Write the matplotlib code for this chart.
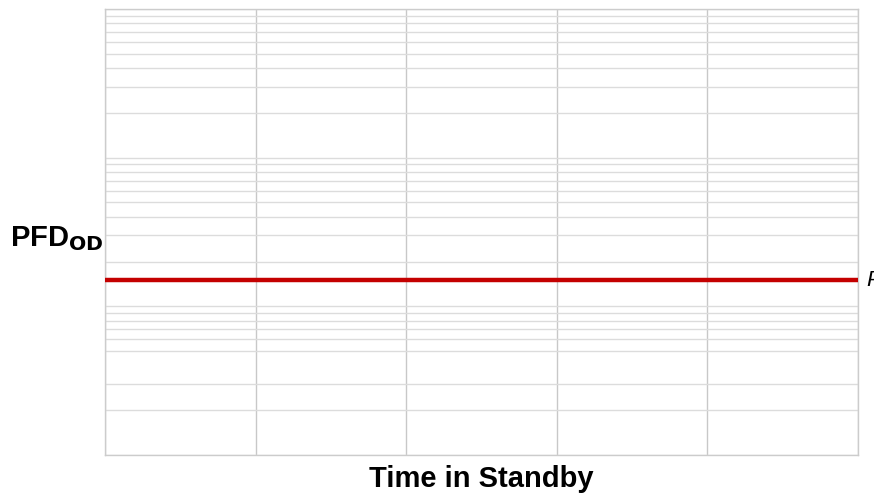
import matplotlib
matplotlib.use("Agg")
import matplotlib.pyplot as plt
from matplotlib.ticker import FixedLocator, NullFormatter

plt.rcParams['font.family'] = ['Liberation Sans', 'DejaVu Sans']

# data
time_standby = [0, 5]
pfd_od = [1.5e-3, 1.5e-3]
x_grid = [0, 1, 2, 3, 4, 5]
y_decades = [1e-4, 1e-3, 1e-2, 1e-1]
# minor grid lines as they show in the picture (the 4e-4 line is absent)
y_minor = [2e-4, 3e-4, 5e-4, 6e-4, 7e-4, 8e-4, 9e-4,
           2e-3, 3e-3, 4e-3, 5e-3, 6e-3, 7e-3, 8e-3, 9e-3,
           2e-2, 3e-2, 4e-2, 5e-2, 6e-2, 7e-2, 8e-2, 9e-2]

fig = plt.figure(figsize=(8.74, 4.97), dpi=100)
ax = fig.add_axes([0.120, 0.0845, 0.8617, 0.8975])

ax.plot(time_standby, pfd_od, color='#c40000', lw=3.2, solid_capstyle='butt', zorder=3)

ax.set_yscale('log')
ax.set_xlim(0, 5)
ax.set_ylim(1e-4, 1e-1)

ax.xaxis.set_major_locator(FixedLocator(x_grid))
ax.yaxis.set_major_locator(FixedLocator(y_decades))
ax.yaxis.set_minor_locator(FixedLocator(y_minor))
ax.xaxis.set_major_formatter(NullFormatter())
ax.yaxis.set_major_formatter(NullFormatter())
ax.yaxis.set_minor_formatter(NullFormatter())
ax.tick_params(which='both', length=0)

ax.grid(True, axis='x', which='major', color='#c8c8c8', lw=1.0)
ax.grid(True, axis='y', which='both', color='#dcdcdc', lw=1.0)
for s in ax.spines.values():
    s.set_color('#cccccc')
    s.set_linewidth(1.0)

ax.set_xlabel('Time in Standby', fontsize=21, fontweight='bold', labelpad=4)
fig.text(0.012, 0.52, r'PFD$_{\mathbf{OD}}$', fontsize=21, fontweight='bold',
         ha='left', va='center')
# label on the right of the line, cut by the figure edge like in the original
ax.text(1.0106, pfd_od[0], 'PFD', fontsize=16, style='italic',
        transform=ax.get_yaxis_transform(), ha='left', va='center')

fig.savefig('out.png', dpi=100)
